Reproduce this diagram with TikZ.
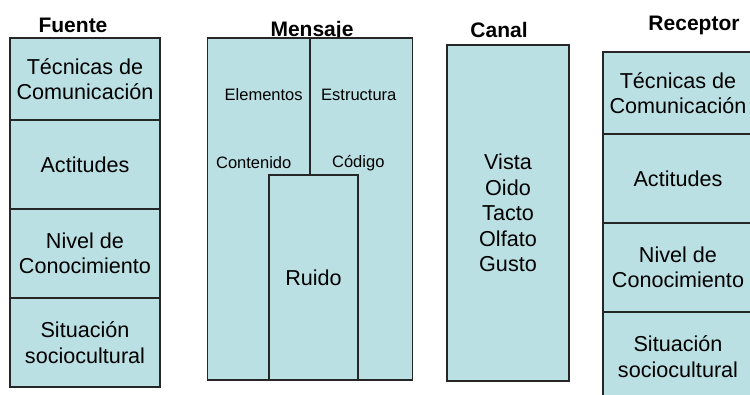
\documentclass[tikz,border=0pt]{standalone}
\usepackage{fontspec}
\setmainfont{Liberation Sans}
\definecolor{celeste}{RGB}{187,224,227}
\tikzset{
  celda/.style={draw=black!85, line width=1.1pt, fill=celeste, inner sep=0pt,
    align=center, font=\fontsize{21.6}{25.5}\selectfont},
  titulo/.style={anchor=base, font=\fontsize{21}{25}\selectfont\bfseries},
  chico/.style={font=\fontsize{16.5}{20}\selectfont}
}
\begin{document}
\begin{tikzpicture}[x=1pt,y=-1pt]
				\useasboundingbox (0,0) rectangle (750,394);
				\clip (0,0) rectangle (750,394);
				% Fuente
				\node[titulo] (tFuente) at (73,32) {Fuente};
				\node[celda, minimum width=150pt, minimum height=82pt] (f1) at (85,79) {Técnicas de\\Comunicación};
				\node[celda, minimum width=150pt, minimum height=89pt] (f2) at (85,164.5) {Actitudes};
				\node[celda, minimum width=150pt, minimum height=89pt] (f3) at (85,253.5) {Nivel de\\Conocimiento};
				\node[celda, minimum width=150pt, minimum height=89pt] (f4) at (85,342.5) {Situación\\sociocultural};
				% Mensaje
				\node[titulo] (tMensaje) at (312,36) {Mensaje};
				\node[celda, minimum width=205pt, minimum height=342pt] (men) at (310,209) {};
				\node[celda, minimum width=89pt, minimum height=205pt] (ruido) at (313.5,277.5) {Ruido};
				\draw[line width=1.1pt, black!85] (men.north) -- (men.north |- ruido.north);
				\node[chico] (elem) at (263.7,95) {Elementos};
				\node[chico] (estr) at (358.8,95) {Estructura};
				\node[chico] (cont) at (253.7,163) {Contenido};
				\node[chico] (cod) at (358.3,163) {Código};
				% Canal
				\node[titulo] (tCanal) at (499,37) {Canal};
				\node[celda, minimum width=122pt, minimum height=336pt] (canal) at (508,213) {Vista\\Oido\\Tacto\\Olfato\\Gusto};
				% Receptor
				\node[titulo] (tReceptor) at (694,30) {Receptor};
				\node[celda, minimum width=150pt, minimum height=82pt] (r1) at (678,93) {Técnicas de\\Comunicación};
				\node[celda, minimum width=150pt, minimum height=89pt] (r2) at (678,178.5) {Actitudes};
				\node[celda, minimum width=150pt, minimum height=89pt] (r3) at (678,267.5) {Nivel de\\Conocimiento};
				\node[celda, minimum width=150pt, minimum height=89pt] (r4) at (678,356.5) {Situación\\sociocultural};
\end{tikzpicture}
\end{document}
